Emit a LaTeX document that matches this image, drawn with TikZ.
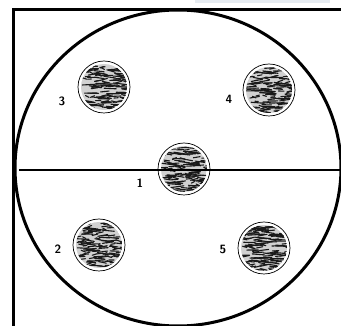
\documentclass[tikz,border=0pt]{standalone}
\usepackage{tikz}
\usetikzlibrary{positioning, calc}
\definecolor{platebar}{HTML}{E6EBF1}

\begin{document}
\begin{tikzpicture}[
    x=1pt, y=-1pt,
    every node/.style={font=\sffamily\large},
    dish/.style={circle, draw, line width=0.7pt, minimum size=52pt, inner sep=0pt, fill=white},
    lbl/.style={font=\sffamily\large\bfseries, inner sep=0pt}
]
    \useasboundingbox (0,0) rectangle (341,326);
    \fill[platebar] (195,0) rectangle (330,3.5);

    % frame and plate
    \draw[line width=3pt] (13,326) -- (13,10) -- (341,10);
    \draw[line width=3pt] (178,168) ellipse [x radius=163, y radius=158];

    % dishes
    \node[dish] (d1) at (184,169) {};
    \node[dish] (d2) at (99,245) {};
    \node[dish] (d3) at (104,87) {};
    \node[dish] (d4) at (269,90) {};
    \node[dish] (d5) at (264,248) {};

    % scribbled fill
    \pgfmathsetseed{11}
    \foreach \d in {d1,d2,d3,d4,d5}{
        \begin{scope}
            \clip (\d.center) circle (23);
            \fill[black!18] (\d.center) circle (23);
            \foreach \k in {1,...,150}{
                \pgfmathsetmacro{\rx}{rand*23}
                \pgfmathsetmacro{\ry}{rand*22}
                \pgfmathsetmacro{\rl}{3+rnd*10}
                \draw[black!90, line width=1.1pt, line cap=round]
                    ($(\d.center)+(\rx,\ry)$) -- ++(\rl,rand*2);
            }
        \end{scope}
    }

    % dividing line
    \coordinate (lineL) at (19,170);
    \coordinate (lineR) at (341,170);
    \draw[line width=2.2pt] (lineL) -- (lineR);

    \node[lbl] (n1) at (140,183) {1};
    \node[lbl] (n2) at (58,249) {2};
    \node[lbl] (n3) at (62,101) {3};
    \node[lbl] (n4) at (229,99) {4};
    \node[lbl] (n5) at (223,249) {5};
\end{tikzpicture}
\end{document}
